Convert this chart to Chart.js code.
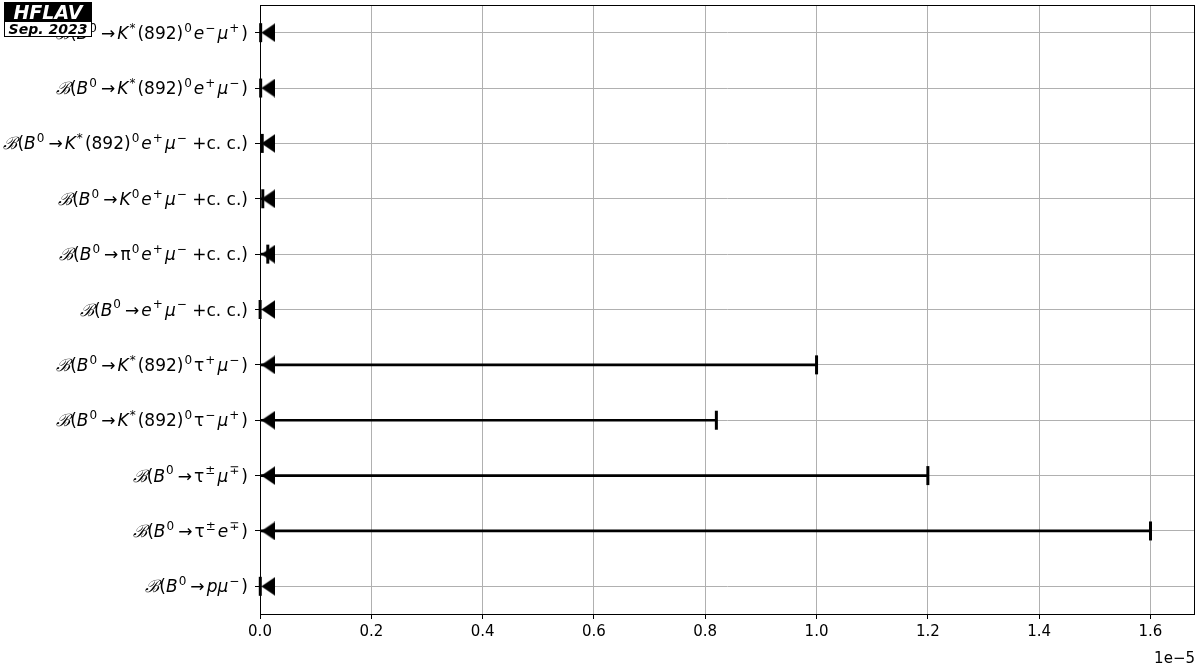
<!DOCTYPE html>
<html>
<head>
<meta charset="utf-8">
<script src="https://cdn.jsdelivr.net/npm/chart.js@4.4.0/dist/chart.umd.min.js"></script>
<style>
    html, body { margin: 0; padding: 0; background: #fff; }
    #plot { display: block; }
</style>
</head>
<body>
<canvas id="plot" width="1200" height="672"></canvas>
<script>
// decay modes, top to bottom (^x / ^{..} = superscript, [..] = upright text)
const decays = [
    'ℬ(B^0→K^*(892)^0e^−μ^+)',
    'ℬ(B^0→K^*(892)^0e^+μ^−)',
    'ℬ(B^0→K^*(892)^0e^+μ^−+[c. c.])',
    'ℬ(B^0→K^0e^+μ^−+[c. c.])',
    'ℬ(B^0→π^0e^+μ^−+[c. c.])',
    'ℬ(B^0→e^+μ^−+[c. c.])',
    'ℬ(B^0→K^*(892)^0τ^+μ^−)',
    'ℬ(B^0→K^*(892)^0τ^−μ^+)',
    'ℬ(B^0→τ^±μ^∓)',
    'ℬ(B^0→τ^±e^∓)',
    'ℬ(B^0→pμ^−)'
];

// 90% CL upper limits, in units of 1e-5
const upperLimits = [0.0012, 0.0012, 0.004, 0.005, 0.014, 0.0002, 1.0, 0.82, 1.2, 1.6, 0.0005];

// where the "upper limit" triangle sits, same units
const markerValue = 0.015;

const xTicks = [0.0, 0.2, 0.4, 0.6, 0.8, 1.0, 1.2, 1.4, 1.6];
const xMax = 1.68;

const FONT = '"DejaVu Sans", sans-serif';
const GRID = '#b0b0b0';

// matplotlib-like '<' marker
function leftTriangle(w, h) {
    const c = document.createElement('canvas');
    c.width = w;
    c.height = h;
    const g = c.getContext('2d');
    g.fillStyle = '#000';
    g.beginPath();
    g.moveTo(0, h / 2);
    g.lineTo(w, 0);
    g.lineTo(w, h);
    g.closePath();
    g.fill();
    return c;
}

function parseMath(str) {
    const out = [];
    let i = 0;
    while (i < str.length) {
        const ch = str[i];
        if (ch === '^') {
            i++;
            let s;
            if (str[i] === '{') {
                const j = str.indexOf('}', i);
                s = str.slice(i + 1, j);
                i = j + 1;
            } else {
                s = str[i];
                i++;
            }
            out.push({ text: s, sup: true });
        } else if (ch === '[') {
            const j = str.indexOf(']', i);
            out.push({ text: str.slice(i + 1, j), upright: true });
            i = j + 1;
        } else {
            out.push({ text: ch });
            i++;
        }
    }
    return out;
}

function fontFor(tok, size) {
    if (tok.text === 'ℬ') return 'italic ' + size + 'px "DejaVu Serif", serif';
    // latin letters and mu are slanted, tau / pi stay upright like mathtext does here
    const italic = !tok.upright && /[A-Za-zμ]/.test(tok.text);
    return (italic ? 'italic ' : '') + size + 'px ' + FONT;
}

// draw a small mathtext-like label, right aligned at x
function drawMath(ctx, str, x, baseline, fs) {
    const toks = parseMath(str);
    const items = toks.map(t => {
        const size = t.sup ? Math.round(fs * 0.7) : fs;
        ctx.font = fontFor(t, size);
        let pre = 0, post = 0;
        if (t.sup) { pre = fs * 0.06; post = fs * 0.12; }
        if (!t.sup && t.text === '→') { pre = fs * 0.12; post = fs * 0.12; }
        if (!t.sup && t.text === '+') { pre = fs * 0.2; }
        return { t, size, pre, post, w: ctx.measureText(t.text).width };
    });
    const total = items.reduce((a, it) => a + it.pre + it.w + it.post, 0);
    let cx = x - total;
    ctx.save();
    ctx.fillStyle = '#000';
    ctx.textAlign = 'left';
    ctx.textBaseline = 'alphabetic';
    items.forEach(it => {
        cx += it.pre;
        ctx.font = fontFor(it.t, it.size);
        ctx.fillText(it.t.text, cx, it.t.sup ? baseline - fs * 0.42 : baseline);
        cx += it.w + it.post;
    });
    ctx.restore();
}

function noPadding(scale) {
    scale.paddingTop = 0;
    scale.paddingBottom = 0;
    scale.paddingLeft = 0;
    scale.paddingRight = 0;
}

const decorations = {
    id: 'decorations',
    afterDraw(chart) {
        const ctx = chart.ctx;
        const area = chart.chartArea;
        const yScale = chart.scales.y;

        // frame
        ctx.save();
        ctx.strokeStyle = '#000';
        ctx.lineWidth = 1;
        ctx.strokeRect(Math.round(area.left) + 0.5, Math.round(area.top) + 0.5,
            Math.round(area.right - area.left) - 1, Math.round(area.bottom - area.top));
        ctx.restore();

        // y labels
        decays.forEach((lab, i) => {
            drawMath(ctx, lab, area.left - 12, yScale.getPixelForTick(i) + 6, 17);
        });

        // offset text
        ctx.save();
        ctx.font = '15px ' + FONT;
        ctx.fillStyle = '#000';
        ctx.textAlign = 'right';
        ctx.textBaseline = 'alphabetic';
        ctx.fillText('1e\u22125', area.right, 663);
        ctx.restore();

        // HFLAV badge
        ctx.save();
        ctx.fillStyle = '#000';
        ctx.fillRect(4, 2, 88, 19);
        ctx.fillStyle = '#fff';
        ctx.font = 'italic bold 19px ' + FONT;
        ctx.textAlign = 'center';
        ctx.textBaseline = 'alphabetic';
        ctx.fillText('HFLAV', 48, 19);
        ctx.fillStyle = '#fff';
        ctx.fillRect(4, 21, 88, 16);
        ctx.strokeStyle = '#000';
        ctx.lineWidth = 1;
        ctx.strokeRect(4.5, 21.5, 87, 15);
        ctx.fillStyle = '#000';
        ctx.font = 'italic bold 14px ' + FONT;
        ctx.fillText('Sep. 2023', 48, 34);
        ctx.restore();
    }
};

const triangle = leftTriangle(14, 19);

new Chart(document.getElementById('plot'), {
    type: 'bar',
    data: {
        labels: decays,
        datasets: [{
            // limit line 0 -> UL
            type: 'bar',
            data: upperLimits.map(v => [0, v]),
            backgroundColor: '#000',
            borderWidth: 0,
            barThickness: 2,
            order: 3
        }, {
            // cap at the limit
            type: 'line',
            data: decays.map((d, i) => ({ x: upperLimits[i], y: d })),
            showLine: false,
            pointStyle: 'line',
            rotation: 90,
            pointRadius: 9.5,
            pointBorderWidth: 3,
            pointBorderColor: '#000',
            clip: false,
            order: 2
        }, {
            // upper limit arrow head
            type: 'line',
            data: decays.map(d => ({ x: markerValue, y: d })),
            showLine: false,
            pointStyle: triangle,
            pointRadius: 9,
            clip: false,
            order: 1
        }]
    },
    options: {
        indexAxis: 'y',
        responsive: false,
        animation: false,
        devicePixelRatio: 1,
        layout: { autoPadding: false, padding: { top: 5, right: 5, left: 0, bottom: 0 } },
        plugins: {
            legend: { display: false },
            tooltip: { enabled: false }
        },
        scales: {
            x: {
                type: 'linear',
                min: 0,
                max: xMax,
                afterBuildTicks: (scale) => { scale.ticks = xTicks.map(v => ({ value: v })); },
                afterFit: (scale) => { scale.height = 58; noPadding(scale); },
                ticks: {
                    callback: (v) => Number(v).toFixed(1),
                    font: { family: FONT, size: 15 },
                    color: '#000',
                    padding: 4,
                    maxRotation: 0,
                    autoSkip: false
                },
                grid: { color: GRID, tickColor: '#000', tickLength: 5, lineWidth: 1 },
                border: { display: false }
            },
            y: {
                type: 'category',
                offset: true,
                afterFit: (scale) => { scale.width = 260; noPadding(scale); },
                ticks: { display: false },
                grid: { offset: false, color: GRID, tickColor: '#000', tickLength: 5, lineWidth: 1 },
                border: { display: false }
            }
        }
    },
    plugins: [decorations]
});
</script>
</body>
</html>
